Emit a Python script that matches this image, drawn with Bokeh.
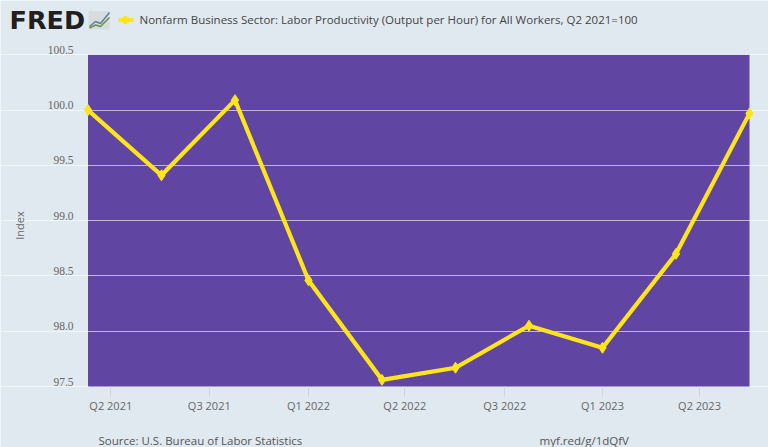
from bokeh.plotting import figure
from bokeh.embed import file_html
from bokeh.resources import INLINE
from bokeh.models import (ColumnDataSource, FixedTicker, Label, LabelSet,
                          PolyAnnotation, Range1d)

periods = ["2021-04", "2021-07", "2021-10", "2022-01", "2022-04",
           "2022-07", "2022-10", "2023-01", "2023-04", "2023-07"]
values = [100.0, 99.41, 100.09, 98.46, 97.56, 97.67, 98.05, 97.85, 98.70, 99.97]
y_ticks = [97.5, 98.0, 98.5, 99.0, 99.5, 100.0, 100.5]
y_tick_labels = ["97.5", "98.0", "98.5", "99.0", "99.5", "100.0", "100.5"]
x_ticks = [0.31, 1.65, 3.0, 4.31, 5.67, 7.0, 8.32]
x_tick_labels = ["Q2 2021", "Q3 2021", "Q1 2022", "Q2 2022", "Q3 2022", "Q1 2023", "Q2 2023"]
title_text = "Nonfarm Business Sector: Labor Productivity (Output per Hour) for All Workers, Q2 2021=100"

BG = "#e1e9f0"
PLOT = "#6145a3"
YELLOW = "#fce51a"
FONT = "Open Sans"
W, H = 768, 447
PL, PR, PT, PB = 87.5, 749.0, 54.3, 386.0   # plot rectangle on the page
Y0, Y1 = 97.5, 100.5
n = len(values) - 1
ux = (PR - PL) / n
uy = (PB - PT) / (Y1 - Y0)


def sx(page_x):
    return page_x


def sy(page_y):
    return H - page_y


xs = list(range(len(values)))
p = figure(width=W, height=H, output_backend="svg", toolbar_location=None,
           x_range=Range1d(-PL / ux, n + (W - PR) / ux),
           y_range=Range1d(Y0 - (H - PB) / uy, Y1 + PT / uy),
           background_fill_color=BG, border_fill_color=BG, min_border=0)
p.outline_line_color = None
p.yaxis.visible = False
p.xgrid.visible = False
p.ygrid.ticker = FixedTicker(ticks=y_ticks)
p.ygrid.bounds = (0, n)
p.ygrid.grid_line_color = "#ffffff"
p.ygrid.grid_line_alpha = 0.6
p.ygrid.grid_line_width = 1

p.quad(left=[0], right=[n], bottom=[Y0], top=[Y1], fill_color=PLOT, line_color=None, level="image")

ax = p.xaxis[0]
ax.fixed_location = Y0
ax.bounds = (0, n)
ax.ticker = FixedTicker(ticks=x_ticks)
ax.major_label_overrides = dict(zip(x_ticks, x_tick_labels))
ax.major_tick_in = 0
ax.major_tick_out = 10
ax.minor_tick_line_color = None
ax.major_tick_line_color = "#c8d6e6"
ax.axis_line_color = "#a99bdc"
ax.major_label_text_font = FONT
ax.major_label_text_font_size = "11px"
ax.major_label_text_color = "#666666"
ax.major_label_standoff = 1

src = ColumnDataSource(dict(x=xs, y=values))
p.line("x", "y", source=src, line_color=YELLOW, line_width=4.2, line_join="miter")
p.scatter("x", "y", source=src, marker="diamond", size=11, fill_color=YELLOW, line_color=YELLOW)

ysrc = ColumnDataSource(dict(y=y_ticks, text=y_tick_labels, x=[sx(73)] * len(y_ticks)))
p.add_layout(LabelSet(x="x", y="y", text="text", source=ysrc, x_units="screen", y_units="data",
                      y_offset=5, text_align="right", text_baseline="middle",
                      text_font=FONT, text_font_size="11.5px", text_color="#666666"))


def label(x, y, text, size, color, **kw):
    p.add_layout(Label(x=sx(x), y=sy(y), x_units="screen", y_units="screen", text=text,
                       text_font=kw.pop("font", FONT), text_font_size=size, text_color=color,
                       text_baseline="middle", **kw))


label(9, 19.5, "FRED", "25.5px", "#231f20", font="DejaVu Sans", text_font_style="bold")
label(139, 19, title_text, "11.5px", "#444444")
label(98, 440, "Source: U.S. Bureau of Labor Statistics", "11.5px", "#555555")
label(539, 440, "myf.red/g/1dQfV", "11.5px", "#555555")
label(19, 225, "Index", "11px", "#666666", angle=1.5708, text_align="center")


def poly(px, py, **kw):
    p.add_layout(PolyAnnotation(xs=[sx(a) for a in px], ys=[sy(b) for b in py],
                                xs_units="screen", ys_units="screen", **kw))


# FRED logo chart icon
poly([88, 109, 109, 88], [10.5, 10.5, 29, 29], fill_color="#d6dcdf", fill_alpha=1, line_color=None)
poly([89, 95, 100, 109, 100, 95], [26, 21, 23, 12, 23, 21],
     fill_alpha=0, line_color="#5f7f9f", line_alpha=1, line_width=1.5)
poly([89, 95, 100, 109, 100, 95], [27.5, 24.5, 26, 17, 26, 24.5],
     fill_alpha=0, line_color="#6a9440", line_alpha=1, line_width=1.5)
# legend key
poly([118, 121, 125, 129, 133, 133, 129, 125, 121, 118],
     [17.5, 17.5, 15, 17.5, 17.5, 21.5, 21.5, 24, 21.5, 21.5],
     fill_color=YELLOW, fill_alpha=1, line_color=None)

open("out.html", "w").write(file_html(p, INLINE))
